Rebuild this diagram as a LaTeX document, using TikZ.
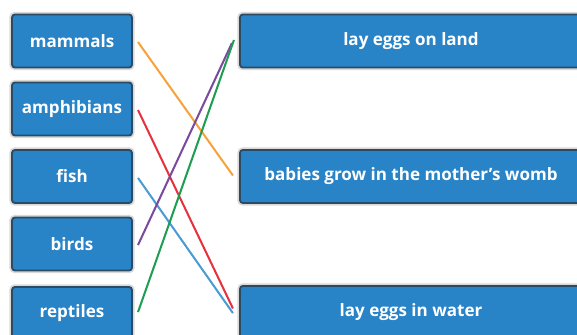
\documentclass[tikz,border=0pt]{standalone}
\usepackage{fontspec}
\setsansfont{Open Sans}
\usepackage{tikz}

\definecolor{boxblue}{HTML}{2883C7}
\definecolor{boxedge}{HTML}{2B4A63}
\definecolor{lorange}{HTML}{F7A23A}
\definecolor{lred}{HTML}{E6323E}
\definecolor{lblue}{HTML}{4A9AD4}
\definecolor{lpurple}{HTML}{7A4A9F}
\definecolor{lgreen}{HTML}{1F9D52}

\begin{document}
\begin{tikzpicture}[
  animal/.style={draw=boxedge,line width=0.9pt,fill=boxblue,rounded corners=1.5pt,
    inner sep=0pt,minimum width=2.08cm,minimum height=0.92cm,text=white,
    font=\sffamily\bfseries\fontsize{8.4}{10}\selectfont,
    preaction={draw=black!15,line width=2.6pt}},
  trait/.style={animal,minimum width=5.93cm},
  link/.style={line width=1pt}
]
\useasboundingbox (0,0) rectangle (10,5.789);

\coordinate (l1) at (1.248,5.078);
\coordinate (l2) at (1.248,3.900);
\coordinate (l3) at (1.248,2.730);
\coordinate (l4) at (1.248,1.560);
\coordinate (l5) at (1.248,0.356);

% desni stolpec
\coordinate (r1) at (7.123,5.078);
\coordinate (r2) at (7.123,2.730);
\coordinate (r3) at (7.123,0.373);

\node[animal] (mammals) at (l1) {mammals};
\node[animal] (amphibians) at (l2) {amphibians};
\node[animal] (fish) at (l3) {fish};
\node[animal] (birds) at (l4) {birds};
\node[animal] (reptiles) at (l5) {reptiles};

\node[trait] (land) at (r1) {lay eggs on land};
\node[trait] (womb) at (r2) {babies grow in the mother's womb};
\node[trait] (water) at (r3) {lay eggs in water};

\draw[link,lorange] ([xshift=2.5pt,yshift=-0.5pt]mammals.east)--([xshift=-3pt,yshift=0.5pt]womb.west);
\draw[link,lred] ([xshift=2.5pt,yshift=-0.5pt]amphibians.east)--([xshift=-3pt,yshift=2pt]water.west);
\draw[link,lblue] ([xshift=2.5pt,yshift=-0.7pt]fish.east)--([xshift=-3pt,yshift=-0.3pt]water.west);
\draw[link,lpurple] ([xshift=2.5pt,yshift=-0.5pt]birds.east)--([xshift=-3.5pt,yshift=-1pt]land.west);
\draw[link,lgreen] ([xshift=2.5pt,yshift=0.7pt]reptiles.east)--([xshift=-2.5pt,yshift=0.5pt]land.west);
\end{tikzpicture}
\end{document}
